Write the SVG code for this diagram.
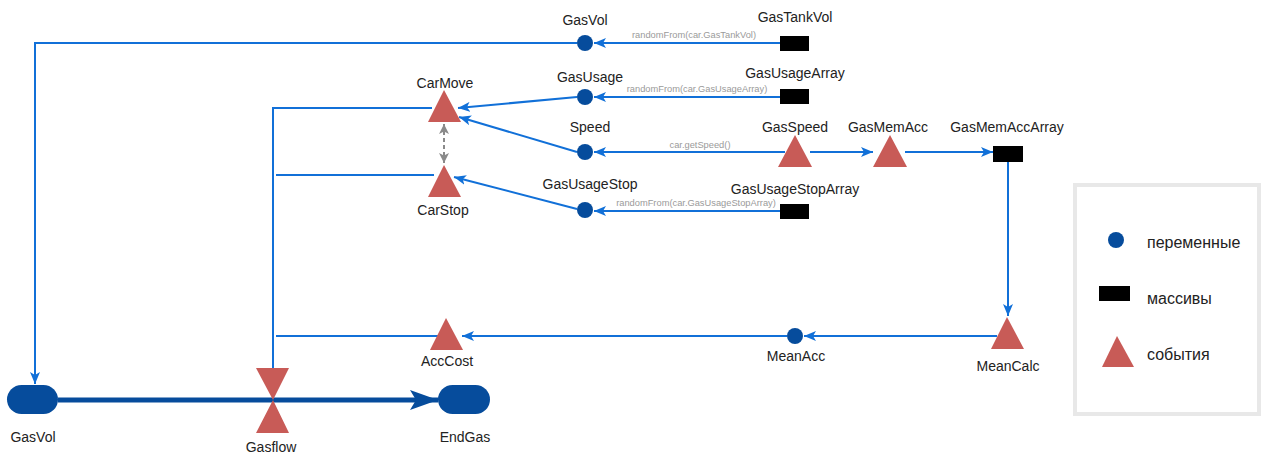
<svg xmlns="http://www.w3.org/2000/svg" width="1264" height="455" viewBox="0 0 1264 455">
<defs>
<style>
.lbl{font-family:"Liberation Sans",Arial,sans-serif;font-size:14px;fill:#222;text-anchor:middle}
.small{font-family:"Liberation Sans",Arial,sans-serif;font-size:9.3px;fill:#9a9a9a;text-anchor:middle}
.leg{font-family:"Liberation Sans",Arial,sans-serif;font-size:16px;fill:#222}
.ln{fill:none;stroke:#1170d8;stroke-width:2}
.var{fill:#064c9c}
.arr{fill:#000}
.evt{fill:#c85b57}
</style>
<marker id="ab" viewBox="0 0 12 10" refX="12" refY="5" markerWidth="12" markerHeight="10" markerUnits="userSpaceOnUse" orient="auto">
<path d="M0,0 L12,5 L0,10 L3,5 z" fill="#1170d8"/>
</marker>
<marker id="ag" viewBox="0 0 10 10" refX="10" refY="5" markerWidth="10" markerHeight="10" markerUnits="userSpaceOnUse" orient="auto-start-reverse">
<path d="M0,0 L10,5 L0,10 L2.5,5 z" fill="#8a8a8a"/>
</marker>
<marker id="af" viewBox="0 0 28 20" refX="28" refY="10" markerWidth="28" markerHeight="20" markerUnits="userSpaceOnUse" orient="auto">
<path d="M0,0 L28,10 L0,20 L6,10 z" fill="#064c9c"/>
</marker>
</defs>

<g id="connectors">
<path class="ln" d="M577,43 H35 V384" marker-end="url(#ab)"/>
<path class="ln" d="M780,43 H594" marker-end="url(#ab)"/>
<path class="ln" d="M780,97 H594" marker-end="url(#ab)"/>
<path class="ln" d="M577,97 L458,108" marker-end="url(#ab)"/>
<path class="ln" d="M577,152 L459,117" marker-end="url(#ab)"/>
<path class="ln" d="M785,152 H594" marker-end="url(#ab)"/>
<path class="ln" d="M810,152 H873" marker-end="url(#ab)"/>
<path class="ln" d="M905,152 H993" marker-end="url(#ab)"/>
<path class="ln" d="M780,211 H594" marker-end="url(#ab)"/>
<path class="ln" d="M577,209 L454,177" marker-end="url(#ab)"/>
<path class="ln" d="M1008,162 V316" marker-end="url(#ab)"/>
<path class="ln" d="M997,336 H804" marker-end="url(#ab)"/>
<path class="ln" d="M787,336 H462" marker-end="url(#ab)"/>
<path class="ln" d="M273,369 V108 H432"/>
<path class="ln" d="M276,175 H434"/>
<path class="ln" d="M276,336 H440"/>
<path d="M444,124 V163" fill="none" stroke="#8a8a8a" stroke-width="2" stroke-dasharray="4,3" marker-start="url(#ag)" marker-end="url(#ag)"/>
<path d="M58,400 H438" fill="none" stroke="#064c9c" stroke-width="5" marker-end="url(#af)"/>
<text class="small" x="694" y="38">randomFrom(car.GasTankVol)</text>
<text class="small" x="697" y="92">randomFrom(car.GasUsageArray)</text>
<text class="small" x="700" y="148">car.getSpeed()</text>
<text class="small" x="696" y="206">randomFrom(car.GasUsageStopArray)</text>
</g>

<g id="GasVolVar"><circle class="var" cx="585" cy="43" r="8"/><text class="lbl" x="585" y="25">GasVol</text></g>
<g id="GasTankVol"><rect class="arr" x="780" y="36" width="29" height="15"/><text class="lbl" x="795" y="22">GasTankVol</text></g>
<g id="GasUsage"><circle class="var" cx="585" cy="97" r="8"/><text class="lbl" x="590" y="82">GasUsage</text></g>
<g id="GasUsageArray"><rect class="arr" x="780" y="89" width="29" height="15"/><text class="lbl" x="795" y="78">GasUsageArray</text></g>
<g id="Speed"><circle class="var" cx="585" cy="152" r="8"/><text class="lbl" x="590" y="132">Speed</text></g>
<g id="GasSpeed"><polygon class="evt" points="795,135 778,167 812,167"/><text class="lbl" x="795" y="132">GasSpeed</text></g>
<g id="GasMemAcc"><polygon class="evt" points="890,135 873,167 907,167"/><text class="lbl" x="888" y="132">GasMemAcc</text></g>
<g id="GasMemAccArray"><rect class="arr" x="993" y="146" width="30" height="16"/><text class="lbl" x="1007" y="132">GasMemAccArray</text></g>
<g id="GasUsageStop"><circle class="var" cx="585" cy="210" r="8"/><text class="lbl" x="590" y="189">GasUsageStop</text></g>
<g id="GasUsageStopArray"><rect class="arr" x="780" y="204" width="29" height="15"/><text class="lbl" x="795" y="194">GasUsageStopArray</text></g>
<g id="CarMove"><polygon class="evt" points="444,90 428,122 461,122"/><text class="lbl" x="445" y="88">CarMove</text></g>
<g id="CarStop"><polygon class="evt" points="444,165 428,197 461,197"/><text class="lbl" x="443" y="215">CarStop</text></g>
<g id="MeanCalc"><polygon class="evt" points="1007,317 991,349 1024,349"/><text class="lbl" x="1008" y="371">MeanCalc</text></g>
<g id="MeanAcc"><circle class="var" cx="795" cy="336" r="8"/><text class="lbl" x="796" y="361">MeanAcc</text></g>
<g id="AccCost"><polygon class="evt" points="446,318 430,350 463,350"/><text class="lbl" x="447" y="366">AccCost</text></g>
<g id="GasVol"><rect class="var" x="7" y="385" width="51" height="29" rx="14.5"/><text class="lbl" x="33" y="442">GasVol</text></g>
<g id="EndGas"><rect class="var" x="438" y="385" width="52" height="29" rx="14.5"/><text class="lbl" x="465" y="442">EndGas</text></g>
<g id="Gasflow"><polygon class="evt" points="256,368 289,368 273,400 289,433 256,433 273,400"/><text class="lbl" x="271" y="452">Gasflow</text></g>

<g id="legend">
<rect x="1075" y="185" width="184" height="229" fill="#fff" stroke="#e8e8e8" stroke-width="4"/>
<circle class="var" cx="1116" cy="240" r="8"/><text class="leg" x="1147" y="248">переменные</text>
<rect class="arr" x="1099" y="286" width="31" height="15"/><text class="leg" x="1147" y="304">массивы</text>
<polygon class="evt" points="1117,336 1102,367 1134,367"/><text class="leg" x="1147" y="360">события</text>
</g>
</svg>
